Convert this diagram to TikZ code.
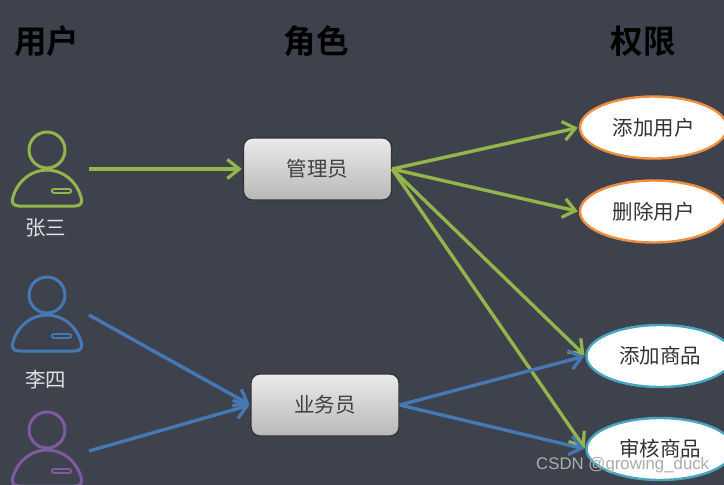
\documentclass[tikz,border=0pt]{standalone}
\usepackage{fontspec}
\setmainfont{Liberation Sans}
\newfontfamily\cjk{Noto Sans CJK SC}
\newfontfamily\cjkb{Noto Sans CJK SC Bold}
\usetikzlibrary{arrows.meta,shapes.geometric}
\definecolor{bgc}{HTML}{3D424C}
\definecolor{grn}{HTML}{94B54C}
\definecolor{blu}{HTML}{4678B4}
\definecolor{pur}{HTML}{7E5A9E}
\definecolor{org}{HTML}{EE8F3F}
\definecolor{tea}{HTML}{48A5BE}
\tikzset{
  x=1pt,y=-1pt,
  titlelabel/.style={font=\cjkb\fontsize{32.5}{32.5}\selectfont,text=black,inner sep=0pt},
  namelabel/.style={font=\cjk\fontsize{20.5}{20.5}\selectfont,text=white!88!black,inner sep=0pt},
  rolebox/.style={draw=black!80,line width=1.3pt,rounded corners=9pt,minimum width=148pt,minimum height=62pt,
    top color=white!92!black,bottom color=white!72!black,inner sep=0pt,
    font=\cjk\fontsize{20.5}{20.5}\selectfont,text=black!75},
  perm/.style={ellipse,fill=white,line width=2.4pt,minimum width=147pt,minimum height=62pt,inner sep=0pt,
    font=\cjk\fontsize{20.5}{20.5}\selectfont,text=black!80},
  link/.style={line width=3.4pt,-{Straight Barb[length=12pt,width=19pt,line width=3.2pt]},shorten >=1pt},
  usericon/.style={line width=3pt,line join=round},
}
\newcommand{\usershape}[2]{% colour, y of head centre
  \begin{scope}[shift={(47,#2)}]
    \draw[usericon,#1] (0,0) circle[radius=18];
    \draw[usericon,#1] (-28,56) .. controls (-34,56) and (-36,52) .. (-34,47)
      .. controls (-29,30) and (-15,20) .. (0,20)
      .. controls (15,20) and (29,30) .. (34,47)
      .. controls (36,52) and (34,56) .. (28,56) -- cycle;
    \draw[line width=6.5pt,#1,line cap=round] (7,41) -- (22,41);
    \draw[line width=2pt,bgc,line cap=round] (7,41) -- (22,41);
  \end{scope}
}
\begin{document}
\begin{tikzpicture}
\useasboundingbox (0,0) rectangle (724,485);
\clip (0,0) rectangle (724,485);
\fill[bgc] (0,0) rectangle (724,485);

\node[titlelabel] (t1) at (47,41) {用户};
\node[titlelabel] (t2) at (316,41) {角色};
\node[titlelabel] (t3) at (643,41) {权限};

\usershape{grn}{150}
\usershape{blu}{295}
\usershape{pur}{430}
\node[namelabel] (n1) at (46,228) {张三};
\node[namelabel] (n2) at (46,380) {李四};

\coordinate (u1) at (89,169);
\coordinate (u2) at (89,315);
\coordinate (u3) at (89,451);

\node[rolebox] (r1) at (317.5,169) {管理员};
\node[rolebox] (r2) at (325,405) {业务员};

\node[perm,draw=org] (p1) at (653.5,127.5) {添加用户};
\node[perm,draw=org] (p2) at (653.5,211.5) {删除用户};
\node[perm,draw=tea] (p3) at (660,356) {添加商品};
\node[perm,draw=tea] (p4) at (660,449) {审核商品};

\draw[link,grn] (u1) -- (r1.west);
\draw[link,grn] (r1.east) -- (p1.west);
\draw[link,grn] (r1.east) -- (p2.west);
\draw[link,grn] (r1.east) -- (p3.west);
\draw[link,grn] (r1.east) -- (p4.west);
\draw[link,blu] (u2) -- (r2.west);
\draw[link,blu] (u3) -- (r2.west);
\draw[link,blu] (r2.east) -- (p3.west);
\draw[link,blu] (r2.east) -- (p4.west);

\node[font=\fontsize{16.8}{16.8}\selectfont,text=white!68!black,inner sep=0pt,anchor=west] (wm) at (536,465) {CSDN @growing\_duck};
\end{tikzpicture}
\end{document}
